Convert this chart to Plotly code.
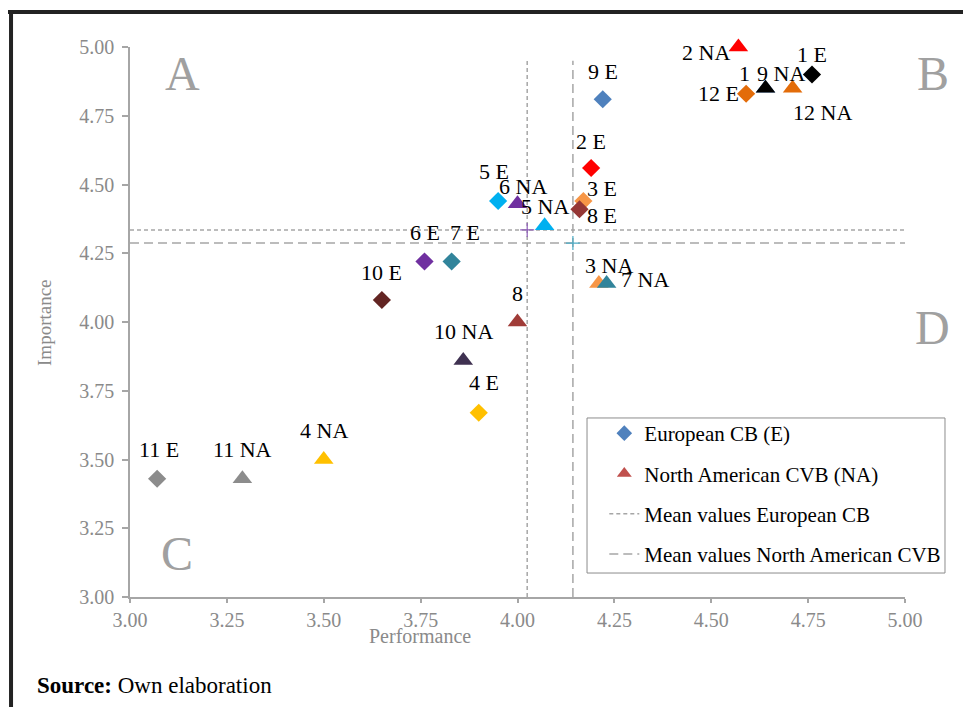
import plotly.graph_objects as go

# ---------------- data ----------------
labels_E = ["1 E", "2 E", "3 E", "4 E", "5 E", "6 E", "7 E", "8 E", "9 E", "10 E", "11 E", "12 E"]
perf_E = [4.76, 4.19, 4.17, 3.90, 3.95, 3.76, 3.83, 4.16, 4.22, 3.65, 3.07, 4.59]
imp_E = [4.90, 4.56, 4.44, 3.67, 4.44, 4.22, 4.22, 4.41, 4.81, 4.08, 3.43, 4.83]

labels_NA = ["1", "2 NA", "3 NA", "4 NA", "5 NA", "6 NA", "7 NA", "8", "9 NA", "10 NA", "11 NA", "12 NA"]
perf_NA = [4.64, 4.57, 4.21, 3.50, 4.07, 4.00, 4.23, 4.00, 4.64, 3.86, 3.29, 4.71]
imp_NA = [4.85, 5.00, 4.14, 3.50, 4.35, 4.43, 4.14, 4.00, 4.85, 3.86, 3.43, 4.85]

mean_E = (4.025, 4.335)
mean_NA = (4.143, 4.287)
mean_top_E = 4.96
mean_top_NA = 4.95

tick_vals = [3.00, 3.25, 3.50, 3.75, 4.00, 4.25, 4.50, 4.75, 5.00]

# ---------------- styles ----------------
colors_E = ["#000000", "#FF0000", "#F79646", "#FFC000", "#00B0F0", "#7030A0",
            "#31849B", "#953735", "#4F81BD", "#632523", "#8C8C8C", "#E36C09"]
colors_NA = ["#000000", "#FF0000", "#F79646", "#FFC000", "#00B0F0", "#7030A0",
             "#31849B", "#A03C38", "#4F81BD", "#3F3151", "#8C8C8C", "#E36C09"]
# label offsets in pixels (dx, dy)
off_E = [(0, 20), (0, 27), (19, 13), (5, 30), (-4, 30), (0, 29), (13, 29),
         (22, -6), (0, 28), (0, 28), (2, 29), (-28, 0)]
off_NA = [(-21, 15), (-32, -5), (10, 18), (0, 29), (0, 19), (5, 17), (38, 4),
          (0, 29), (15, 15), (0, 29), (0, 29), (30, -24)]
draw_order_NA = [8, 0, 1, 2, 3, 4, 5, 6, 7, 9, 10, 11]

FONT = "Liberation Serif"
GRAY = "#A6A6A6"
TXTGRAY = "#8A8A8A"

fig = go.Figure()

# mean lines
fig.add_trace(go.Scatter(
    x=[tick_vals[0], tick_vals[-1], None, mean_E[0], mean_E[0]],
    y=[mean_E[1], mean_E[1], None, tick_vals[0], mean_top_E],
    mode="lines", line=dict(color=GRAY, width=1.5, dash="4px,3px"),
    name="Mean values European CB", legendgroup="c", legendrank=3,
    hoverinfo="skip"))
fig.add_trace(go.Scatter(
    x=[tick_vals[0], tick_vals[-1], None, mean_NA[0], mean_NA[0]],
    y=[mean_NA[1], mean_NA[1], None, tick_vals[0], mean_top_NA],
    mode="lines", line=dict(color=GRAY, width=1.5, dash="9px,5px"),
    name="Mean values North American CVB", legendgroup="d", legendrank=4,
    hoverinfo="skip"))
fig.add_trace(go.Scatter(
    x=[mean_E[0]], y=[mean_E[1]], mode="markers", showlegend=False,
    marker=dict(symbol="cross-thin", size=10, line=dict(color="#8E5DB8", width=1.2))))
fig.add_trace(go.Scatter(
    x=[mean_NA[0]], y=[mean_NA[1]], mode="markers", showlegend=False,
    marker=dict(symbol="cross-thin", size=10, line=dict(color="#4BACC6", width=1.2))))

# data points
fig.add_trace(go.Scatter(
    x=perf_E, y=imp_E, mode="markers", showlegend=False, text=labels_E, cliponaxis=False,
    marker=dict(symbol="diamond", size=14, color=colors_E, line=dict(width=0))))
fig.add_trace(go.Scatter(
    x=[perf_NA[i] for i in draw_order_NA], y=[imp_NA[i] for i in draw_order_NA],
    mode="markers", showlegend=False, text=[labels_NA[i] for i in draw_order_NA],
    cliponaxis=False,
    marker=dict(symbol="triangle-up", size=17,
                color=[colors_NA[i] for i in draw_order_NA], line=dict(width=0))))

# legend-only traces
fig.add_trace(go.Scatter(
    x=[None], y=[None], mode="markers", name="European CB (E)", legendgroup="a",
    legendrank=1, marker=dict(symbol="diamond", size=12, color="#4F81BD")))
fig.add_trace(go.Scatter(
    x=[None], y=[None], mode="markers", name="North American CVB (NA)", legendgroup="b",
    legendrank=2, marker=dict(symbol="triangle-up", size=13, color="#C0504D")))

annotations = []
for lab, xv, yv, (dx, dy) in zip(labels_E, perf_E, imp_E, off_E):
    annotations.append(dict(x=xv, y=yv, xref="x", yref="y", text=lab, showarrow=False,
                            xanchor="center", yanchor="middle",
                            xshift=dx, yshift=dy, font=dict(family=FONT, size=22, color="#000000")))
for lab, xv, yv, (dx, dy) in zip(labels_NA, perf_NA, imp_NA, off_NA):
    annotations.append(dict(x=xv, y=yv, xref="x", yref="y", text=lab, showarrow=False,
                            xanchor="center", yanchor="middle",
                            xshift=dx, yshift=dy, font=dict(family=FONT, size=22, color="#000000")))

# quadrant letters
for letter, px, py in [("A", 0.0671, 0.9527), ("B", 1.0361, 0.9527),
                       ("C", 0.0606, 0.080), ("D", 1.0361, 0.4909)]:
    annotations.append(dict(x=px, y=py, xref="paper", yref="paper", text=letter,
                            xanchor="center", yanchor="middle",
                            showarrow=False, font=dict(family=FONT, size=48, color="#A0A0A0")))

# axis titles
annotations.append(dict(x=0.3742, y=-0.0709, xref="paper", yref="paper", text="Performance",
                        xanchor="center", yanchor="middle",
                        showarrow=False, font=dict(family=FONT, size=20, color=TXTGRAY)))
annotations.append(dict(x=-0.111, y=0.5, xref="paper", yref="paper", text="Importance",
                        xanchor="center", yanchor="middle",
                        textangle=-90, showarrow=False, font=dict(family=FONT, size=19, color=TXTGRAY)))
# source
annotations.append(dict(x=-0.1226, y=-0.1618, xref="paper", yref="paper", xanchor="left",
                        yanchor="middle", text="<b>Source:</b> Own elaboration", showarrow=False,
                        font=dict(family=FONT, size=23, color="#000000")))

shapes = [
    # legend box
    dict(type="rect", xref="paper", yref="paper", x0=0.5897, x1=1.0516, y0=0.0436, y1=0.3255,
         line=dict(color="#8C8C8C", width=1), fillcolor="white", layer="below"),
    # outer frame
    dict(type="line", xref="paper", yref="paper", x0=-0.158, x1=1.09, y0=1.0636, y1=1.0636,
         line=dict(color="#222222", width=4)),
    dict(type="line", xref="paper", yref="paper", x0=-0.1535, x1=-0.1535, y0=1.066, y1=-0.22,
         line=dict(color="#222222", width=4)),
]

axis_common = dict(range=[3, 5], tickvals=tick_vals, tickformat=".2f", showgrid=False,
                   zeroline=False, showline=True, linecolor=GRAY, linewidth=1.5,
                   ticks="outside", tickcolor=GRAY, tickwidth=1.5,
                   tickfont=dict(family=FONT, size=20, color=TXTGRAY))

fig.update_layout(
    width=955, height=699,
    margin=dict(l=122, r=58, t=39, b=110),
    paper_bgcolor="white", plot_bgcolor="white",
    xaxis=dict(**axis_common, ticklen=4),
    yaxis=dict(**axis_common, ticklen=6, ticklabelstandoff=4),
    annotations=annotations,
    shapes=shapes,
    showlegend=True,
    legend=dict(x=0.612, y=0.3345, xanchor="left", yanchor="top", bgcolor="rgba(0,0,0,0)",
                borderwidth=0, traceorder="grouped", tracegroupgap=10,
                font=dict(family=FONT, size=21, color="#000000")),
    font=dict(family=FONT),
)

fig.write_html("out.html")
